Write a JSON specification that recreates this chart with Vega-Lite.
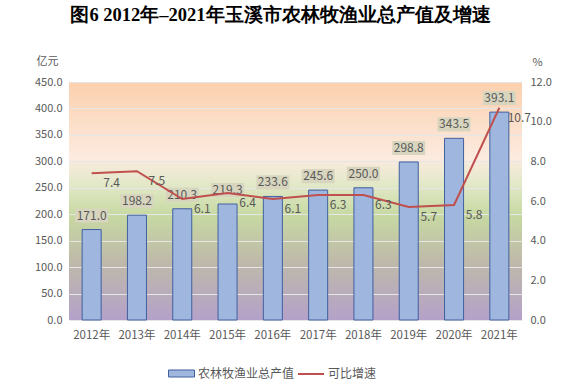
{
  "$schema": "https://vega.github.io/schema/vega-lite/v6.json",
  "width": 453,
  "height": 238,
  "autosize": "none",
  "padding": {"left": 69, "top": 82, "right": 41, "bottom": 69},
  "background": "white",
  "title": {
    "text": "图6  2012年–2021年玉溪市农林牧渔业总产值及增速",
    "font": "Liberation Serif",
    "fontSize": 18.5,
    "fontWeight": "bold",
    "color": "#000000",
    "anchor": "middle",
    "dx": -15,
    "offset": 31
  },
  "data": {
    "values": [
      {"year": "2012年", "value": 171.0, "growth": 7.4},
      {"year": "2013年", "value": 198.2, "growth": 7.5},
      {"year": "2014年", "value": 210.3, "growth": 6.1},
      {"year": "2015年", "value": 219.3, "growth": 6.4},
      {"year": "2016年", "value": 233.6, "growth": 6.1},
      {"year": "2017年", "value": 245.6, "growth": 6.3},
      {"year": "2018年", "value": 250.0, "growth": 6.3},
      {"year": "2019年", "value": 298.8, "growth": 5.7},
      {"year": "2020年", "value": 343.5, "growth": 5.8},
      {"year": "2021年", "value": 393.1, "growth": 10.7}
    ]
  },
  "config": {
    "font": "Noto Sans CJK SC",
    "view": {
      "stroke": null,
      "fill": {
        "gradient": "linear",
        "x1": 0, "y1": 0, "x2": 0, "y2": 1,
        "stops": [
          {"offset": 0, "color": "#fbd0ad"},
          {"offset": 0.32, "color": "#fcebe0"},
          {"offset": 0.43, "color": "#e2e8c8"},
          {"offset": 0.56, "color": "#c7d9a2"},
          {"offset": 0.75, "color": "#bfbaa9"},
          {"offset": 1, "color": "#b4a1c9"}
        ]
      }
    },
    "axis": {
      "labelFont": "Noto Sans CJK SC",
      "labelFontSize": 11,
      "labelColor": "#595959",
      "titleFont": "Noto Sans CJK SC",
      "titleFontSize": 11,
      "titleColor": "#595959",
      "titleFontWeight": "normal"
    },
    "legend": {
      "labelFontSize": 12,
      "labelColor": "#595959",
      "labelFont": "Noto Sans CJK SC",
      "labelOffset": 3,
      "orient": "none",
      "direction": "horizontal"
    }
  },
  "encoding": {
    "x": {
      "field": "year",
      "type": "nominal",
      "sort": null,
      "scale": {"paddingInner": 0.58, "paddingOuter": 0.29},
      "axis": {"title": null, "labelAngle": 0, "domain": false, "ticks": false, "labelPadding": 9, "labelFontSize": 11.5}
    }
  },
  "layer": [
    {
      "encoding": {
        "y": {
          "field": "value",
          "type": "quantitative",
          "scale": {"domain": [0, 450]},
          "axis": {
            "title": "亿元",
            "titleAngle": 0,
            "titleX": -22,
            "titleY": -21,
            "titleAlign": "center",
            "titleBaseline": "middle",
            "values": [0, 50, 100, 150, 200, 250, 300, 350, 400, 450],
            "format": ".1f",
            "domain": false,
            "ticks": false,
            "labelPadding": 7,
            "gridColor": "#e6e6e6",
            "gridWidth": 1
          }
        }
      },
      "layer": [
        {
          "mark": {"type": "bar", "stroke": "#41609f", "strokeWidth": 1, "opacity": 1},
          "encoding": {
            "fill": {
              "datum": "农林牧渔业总产值",
              "type": "nominal",
              "scale": {"range": ["#9fb6de"]},
              "legend": {
                "title": null,
                "legendX": 99,
                "legendY": 278,
                "symbolType": "M-1,-0.27L1,-0.27L1,0.27L-1,0.27Z",
                "symbolSize": 676,
                "symbolStrokeColor": "#41609f",
                "symbolStrokeWidth": 1,
                "symbolOpacity": 1
              }
            }
          }
        },
        {
          "mark": {"type": "point", "shape": "square", "size": 196, "filled": true, "color": "#d8d5bf", "opacity": 1, "strokeWidth": 0, "yOffset": -14, "xOffset": -9.5},
          "encoding": {}
        },
        {
          "mark": {"type": "point", "shape": "square", "size": 196, "filled": true, "color": "#d8d5bf", "opacity": 1, "strokeWidth": 0, "yOffset": -14},
          "encoding": {}
        },
        {
          "mark": {"type": "point", "shape": "square", "size": 196, "filled": true, "color": "#d8d5bf", "opacity": 1, "strokeWidth": 0, "yOffset": -14, "xOffset": 9.5},
          "encoding": {}
        },
        {
          "mark": {"type": "text", "yOffset": -14, "baseline": "middle", "fontSize": 12, "color": "#595959", "font": "Noto Sans CJK SC"},
          "encoding": {"text": {"field": "value", "type": "quantitative", "format": ".1f"}}
        }
      ]
    },
    {
      "encoding": {
        "y": {
          "field": "growth",
          "type": "quantitative",
          "scale": {"domain": [0, 12]},
          "axis": {
            "orient": "right",
            "title": "%",
            "titleAngle": 0,
            "titleX": 15,
            "titleY": -20,
            "titleAlign": "center",
            "titleBaseline": "middle",
            "values": [0, 2, 4, 6, 8, 10, 12],
            "format": ".1f",
            "domain": false,
            "ticks": false,
            "grid": false,
            "labelPadding": 8
          }
        }
      },
      "layer": [
        {
          "mark": {"type": "line", "strokeWidth": 2},
          "encoding": {
            "stroke": {
              "datum": "可比增速",
              "type": "nominal",
              "scale": {"range": ["#c0504d"]},
              "legend": {
                "title": null,
                "legendX": 228,
                "legendY": 278,
                "symbolType": "stroke",
                "symbolSize": 676,
                "symbolStrokeWidth": 2
              }
            }
          }
        },
        {
          "mark": {"type": "text", "dx": 20, "dy": 10, "baseline": "middle", "fontSize": 12, "color": "#595959", "font": "Noto Sans CJK SC"},
          "encoding": {"text": {"field": "growth", "type": "quantitative", "format": ".1f"}}
        }
      ]
    }
  ],
  "resolve": {"scale": {"y": "independent"}}
}
